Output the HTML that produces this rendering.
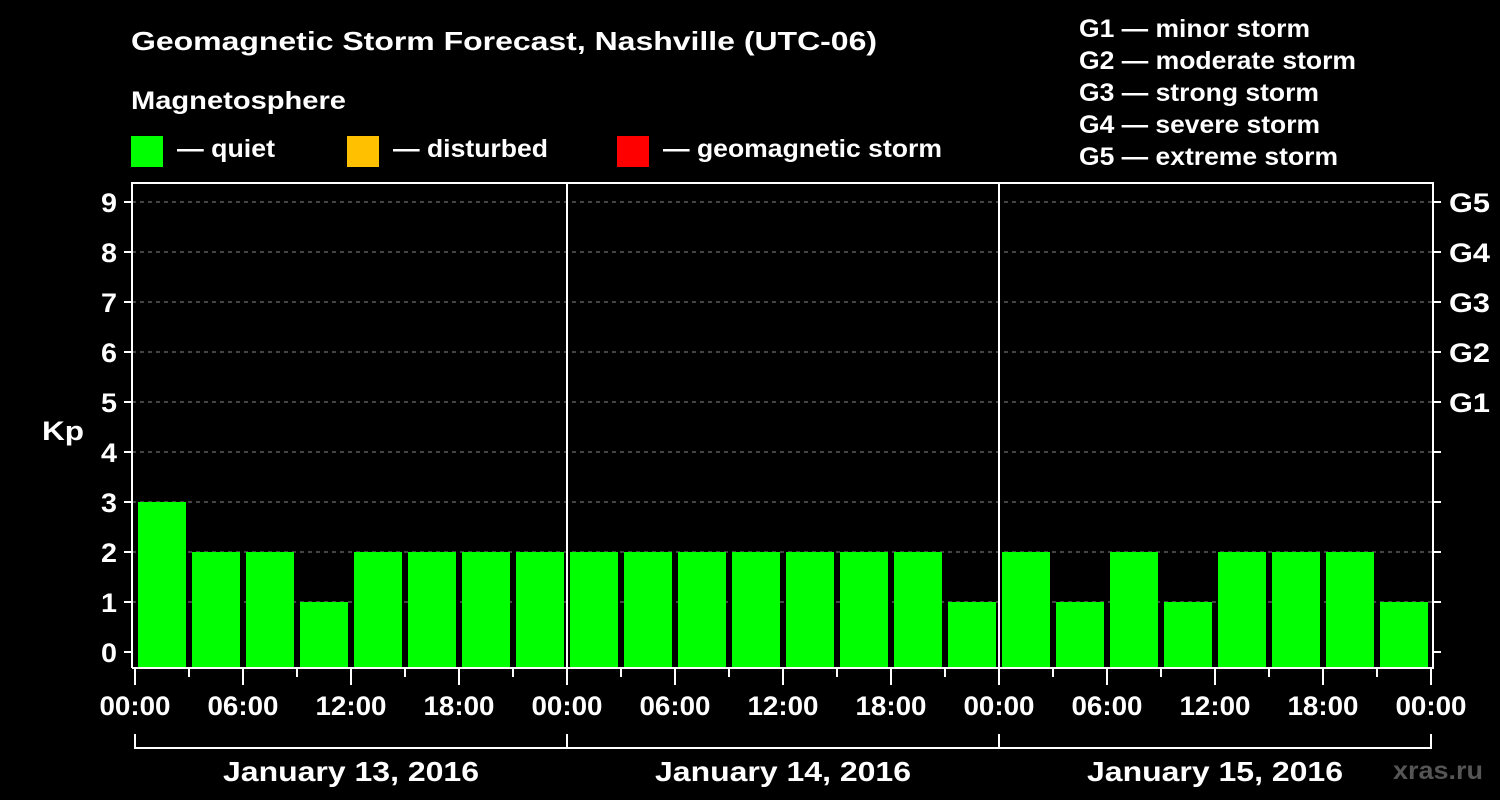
<!DOCTYPE html>
<html><head><meta charset="utf-8"><style>
body{margin:0;background:#000;}
svg{display:block;font-family:"Liberation Sans",Arial,sans-serif;font-weight:bold;}
</style></head><body>
<svg id="c" width="1500" height="800" viewBox="0 0 1500 800">
<rect width="1500" height="800" fill="#000"/>
<text x="131" y="50" fill="#fff" font-size="26" textLength="746" lengthAdjust="spacingAndGlyphs">Geomagnetic Storm Forecast, Nashville (UTC-06)</text>
<text x="131" y="109" fill="#fff" font-size="25" textLength="215" lengthAdjust="spacingAndGlyphs">Magnetosphere</text>
<g><rect x="131" y="136" width="32" height="31" fill="#00ff00"/><text x="177" y="157" fill="#fff" font-size="25" textLength="98" lengthAdjust="spacingAndGlyphs">— quiet</text></g>
<g><rect x="347" y="136" width="32" height="31" fill="#ffc000"/><text x="393" y="157" fill="#fff" font-size="25" textLength="155" lengthAdjust="spacingAndGlyphs">— disturbed</text></g>
<g><rect x="617" y="136" width="32" height="31" fill="#ff0000"/><text x="663" y="157" fill="#fff" font-size="25" textLength="279" lengthAdjust="spacingAndGlyphs">— geomagnetic storm</text></g>
<g fill="#fff" font-size="25" lengthAdjust="spacingAndGlyphs">
<text x="1079" y="37" textLength="231" lengthAdjust="spacingAndGlyphs">G1 — minor storm</text>
<text x="1079" y="69" textLength="277" lengthAdjust="spacingAndGlyphs">G2 — moderate storm</text>
<text x="1079" y="101" textLength="240" lengthAdjust="spacingAndGlyphs">G3 — strong storm</text>
<text x="1079" y="133" textLength="241" lengthAdjust="spacingAndGlyphs">G4 — severe storm</text>
<text x="1079" y="165" textLength="259" lengthAdjust="spacingAndGlyphs">G5 — extreme storm</text>
</g>
<text x="42" y="440" fill="#fff" font-size="27" textLength="42" lengthAdjust="spacingAndGlyphs">Kp</text>
<text x="1393" y="779" fill="#555" font-size="25" textLength="90" lengthAdjust="spacingAndGlyphs">xras.ru</text>
<g id="plot"></g>
</svg>
<script>
const kpValues=[3,2,2,1,2,2,2,2, 2,2,2,2,2,2,2,1, 2,1,2,1,2,2,2,1];
const yTicks=[0,1,2,3,4,5,6,7,8,9];
const gLabels=["G1","G2","G3","G4","G5"];
const gLevels=[5,6,7,8,9];
const timeLabels=["00:00","06:00","12:00","18:00"];
const dayLabels=["January 13, 2016","January 14, 2016","January 15, 2016"];

const NS="http://www.w3.org/2000/svg";
const g=document.getElementById('plot');
const x0=135,dayW=432,slotW=54,L=132,R=1433,T=183,B=668;
const y=v=>652-v*50;
const xs=h=>x0+h/24*dayW;
function el(t,a){const e=document.createElementNS(NS,t);for(const k in a)e.setAttribute(k,a[k]);g.appendChild(e);return e;}
function col(v){return v>=5?'#ff0000':v>=4?'#ffc000':'#00ff00';}
yTicks.forEach(v=>{
 if(v>0){const l=el('line',{x1:L,x2:R,y1:y(v),y2:y(v),stroke:'#888','stroke-dasharray':'4,4','stroke-width':1});
 }
 const t=el('line',{x1:124,x2:L,y1:y(v),y2:y(v),stroke:'#fff','stroke-width':2});
 
 const t2=el('line',{x1:R,x2:1441,y1:y(v),y2:y(v),stroke:'#fff','stroke-width':2});
 
 const tx=el('text',{x:117,y:y(v)+10,fill:'#fff','font-size':27,'text-anchor':'end',textLength:16,lengthAdjust:'spacingAndGlyphs'});tx.textContent=v;
 
});
gLabels.forEach((s,i)=>{
 const tx=el('text',{x:1449,y:y(gLevels[i])+10,fill:'#fff','font-size':27,textLength:41,lengthAdjust:'spacingAndGlyphs'});tx.textContent=s;
 
});
kpValues.forEach((v,i)=>{
 const r=el('rect',{x:x0+i*slotW+3,y:y(v),width:slotW-6,height:B-1-y(v),fill:col(v)});
 
});
const f=el('path',{d:`M${L} ${B}V${T}H${R}V${B}H${L}`,fill:'none',stroke:'#fff','stroke-width':2});

[1,2].forEach(d=>{const l=el('line',{x1:x0+d*dayW,x2:x0+d*dayW,y1:T,y2:B,stroke:'#fff','stroke-width':2});
 });
for(let h=0;h<=72;h+=3){
 const major=h%6===0;
 const t=el('line',{x1:xs(h),x2:xs(h),y1:B,y2:major?685:677,stroke:'#fff','stroke-width':2});
 
 if(major){const tx=el('text',{x:xs(h)-35.5,y:715,fill:'#fff','font-size':27,textLength:71,lengthAdjust:'spacingAndGlyphs'});
 tx.textContent=timeLabels[(h%24)/6];
 }
}
const br=el('path',{d:`M${x0} 734V748H${x0+3*dayW}V734M${x0+dayW} 734V748M${x0+2*dayW} 734V748`,fill:'none',stroke:'#fff','stroke-width':2});

dayLabels.forEach((s,i)=>{
 const tx=el('text',{x:x0+i*dayW+dayW/2-128,y:781,fill:'#fff','font-size':28,textLength:256,lengthAdjust:'spacingAndGlyphs'});tx.textContent=s;
 
});
</script>
</body></html>
